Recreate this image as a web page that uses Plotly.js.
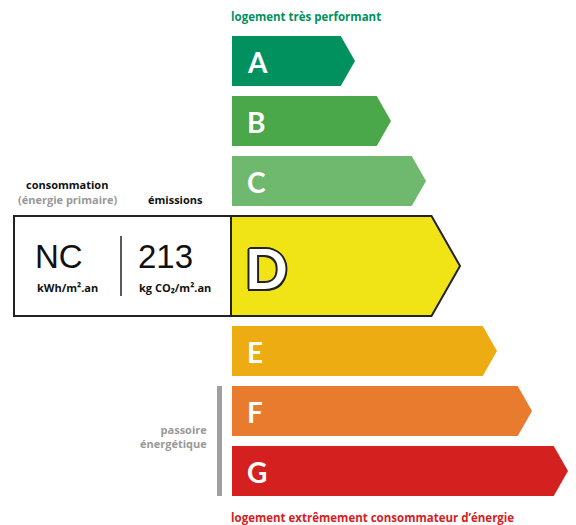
<!DOCTYPE html>
<html><head><meta charset="utf-8">
<script src="https://cdn.plot.ly/plotly-3.0.1.min.js"></script>
<style>html,body{margin:0;padding:0;background:#fff}#chart{width:576px;height:525px}</style>
</head><body><div id="chart"></div>
<script>
// ---- data ----
const classes = ['A','B','C','D','E','F','G'];
const classLengths = [123, 159, 194, 229, 265, 300, 336]; // bar length incl. arrow tip
const classColors = ['#00915F','#4BA84A','#6EB96D','#F1E416','#EDAC12','#E97B2F','#D4211F'];
const currentClass = 'D';
const consumptionValue = 'NC';
const consumptionUnit = 'kWh/m².an';
const emissionsValue = '213';
const emissionsUnit = 'kg CO₂/m².an';
const topLabel = 'logement très performant';
const bottomLabel = 'logement extrêmement consommateur d’énergie';
const passoireLabel = 'passoire<br>énergétique';
const passoireClasses = ['F','G'];

// ---- layout geometry ----
const X0 = 232, TOP = 36, H = 50, GAP = 10, HD = 100;
const font = 'Lato, "Open Sans", sans-serif';
const tfont = '"Open Sans", Lato, sans-serif';
const traces = [], annotations = [], shapes = [];
let y = TOP;
const rows = {};
classes.forEach((c, i) => {
  const cur = c === currentClass;
  const h = cur ? HD : H;
  const x0 = cur ? X0 - 1 : X0;
  const tip = x0 + classLengths[i];
  const depth = h / 2 * 0.57;
  rows[c] = {y0: y, y1: y + h};
  traces.push({
    type: 'scatter', mode: 'lines', fill: 'toself', fillcolor: classColors[i],
    x: [x0, tip - depth, tip, tip - depth, x0, x0],
    y: [y, y, y + h / 2, y + h, y + h, y],
    line: {color: cur ? '#222' : classColors[i], width: cur ? 2 : 0},
    hoverinfo: 'skip', showlegend: false
  });
  const sh = '#222';
  annotations.push({
    x: cur ? x0 + 12 : x0 + 13, y: y + h / 2 + 1, xanchor: 'left', yanchor: 'middle',
    text: '<b>' + c + '</b>', showarrow: false,
    font: cur ? {family: font, size: 56, color: '#fff', weight: 900,
      shadow: `-2px 0 0 ${sh}, 2px 0 0 ${sh}, 0 -2px 0 ${sh}, 0 2px 0 ${sh}, -1.5px -1.5px 0 ${sh}, 1.5px -1.5px 0 ${sh}, -1.5px 1.5px 0 ${sh}, 1.5px 1.5px 0 ${sh}`}
      : {family: font, size: 28, color: '#fff', weight: 900}
  });
  y += h + GAP;
});

const rd = rows[currentClass];
// left info box
shapes.push({type: 'rect', xref: 'x', yref: 'y', x0: 14, x1: X0 - 1, y0: rd.y0, y1: rd.y1, line: {color: '#222', width: 2}, fillcolor: 'rgba(0,0,0,0)', layer: 'above'});
shapes.push({type: 'line', x0: 121, x1: 121, y0: rd.y0 + 20, y1: rd.y1 - 20, line: {color: '#222', width: 1.5}});
annotations.push(
  {x: 59, y: rd.y0 + 40, text: consumptionValue, showarrow: false, font: {family: 'Liberation Sans, Arial', size: 33, color: '#111'}},
  {x: 67, y: rd.y0 + 71, text: '<b>' + consumptionUnit + '</b>', showarrow: false, font: {family: tfont, size: 11, color: '#111'}},
  {x: 165, y: rd.y0 + 40, text: emissionsValue, showarrow: false, font: {family: 'Liberation Sans, Arial', size: 33, color: '#111'}},
  {x: 175, y: rd.y0 + 71, text: '<b>' + emissionsUnit + '</b>', showarrow: false, font: {family: tfont, size: 11, color: '#111'}},
  {x: 67, y: rd.y0 - 32, text: '<b>consommation</b>', showarrow: false, font: {family: tfont, size: 11, color: '#111'}},
  {x: 67, y: rd.y0 - 17, text: '<b>(énergie primaire)</b>', showarrow: false, font: {family: tfont, size: 11, color: '#999'}},
  {x: 175, y: rd.y0 - 17, text: '<b>émissions</b>', showarrow: false, font: {family: tfont, size: 11, color: '#111'}},
  {x: X0 - 3, y: 16, xanchor: 'left', text: '<b>' + topLabel + '</b>', showarrow: false, font: {family: tfont, size: 11.5, color: '#00915F'}},
  {x: X0 - 3, y: 517, xanchor: 'left', text: '<b>' + bottomLabel + '</b>', showarrow: false, font: {family: tfont, size: 11.5, color: '#D4211F'}}
);
// passoire bar
const p0 = rows[passoireClasses[0]].y0, p1 = rows[passoireClasses[passoireClasses.length - 1]].y1;
shapes.push({type: 'rect', x0: 217, x1: 222, y0: p0, y1: p1, line: {width: 0}, fillcolor: '#a0a0a0'});
annotations.push({x: 209, y: (p0 + p1) / 2 - 5, xanchor: 'right', align: 'right', text: '<b>' + passoireLabel + '</b>', showarrow: false, font: {family: tfont, size: 11, color: '#999'}});

Plotly.newPlot('chart', traces, {
  width: 576, height: 525, margin: {l: 0, r: 0, t: 0, b: 0},
  paper_bgcolor: '#fff', plot_bgcolor: '#fff',
  xaxis: {range: [0, 576], visible: false, fixedrange: true},
  yaxis: {range: [525, 0], visible: false, fixedrange: true},
  shapes, annotations, showlegend: false
}, {staticPlot: true, displayModeBar: false});
</script></body></html>
